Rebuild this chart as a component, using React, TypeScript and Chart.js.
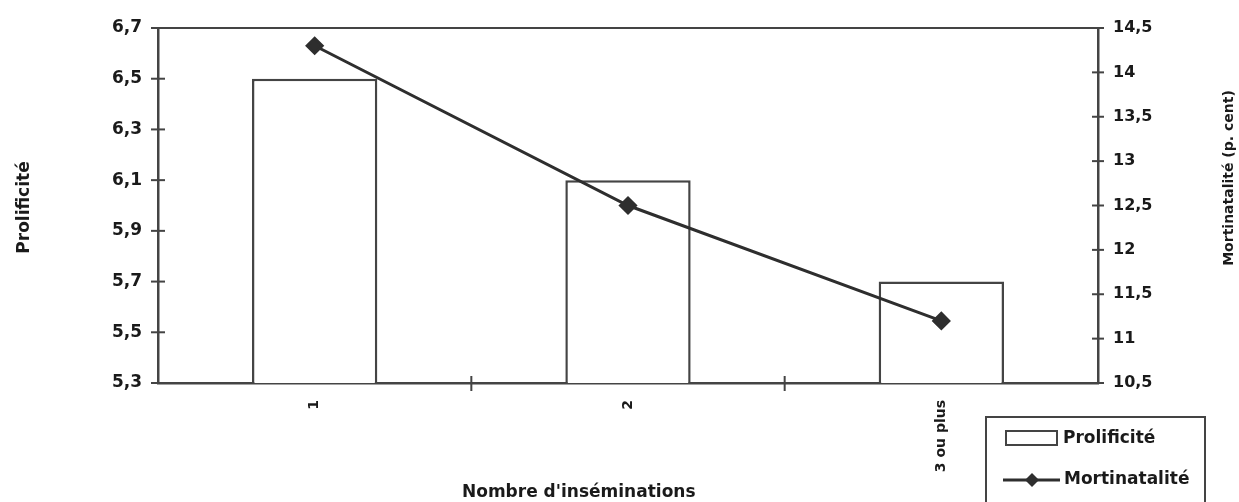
import React, { useEffect, useRef } from 'react';
import { Chart, registerables } from 'chart.js';

Chart.register(...registerables);

const categories = ['1', '2', '3 ou plus'];
const prolificite = [6.5, 6.1, 5.7];
const mortinatalite = [14.3, 12.5, 11.2];
const leftTicks = [5.3, 5.5, 5.7, 5.9, 6.1, 6.3, 6.5, 6.7];
const rightTicks = [10.5, 11, 11.5, 12, 12.5, 13, 13.5, 14, 14.5];
const seriesNames = ['Prolificité', 'Mortinatalité'];
const leftTitle = 'Prolificité';
const rightTitle = 'Mortinatalité (p. cent)';
const xTitle = "Nombre d'inséminations";

const FONT = '"DejaVu Sans", "Liberation Sans", sans-serif';
const AXIS = '#444444';
const TEXT = '#1a1a1a';
const LINE = '#2e2e2e';

const fmt = (v: number) =>
  (Number.isInteger(v) ? String(v) : v.toFixed(1)).replace('.', ',');

const decor = {
  id: 'decor',
  afterDraw(chart: any) {
    const { ctx, chartArea: a, scales } = chart;
    const seg = (x1: number, y1: number, x2: number, y2: number) => {
      ctx.beginPath();
      ctx.moveTo(x1, y1);
      ctx.lineTo(x2, y2);
      ctx.stroke();
    };
    ctx.save();
    ctx.strokeStyle = AXIS;
    ctx.lineWidth = 2;
    // top border
    seg(a.left - 1, a.top, a.right + 1, a.top);
    // left ticks crossing the axis
    scales.y.ticks.forEach((_t: any, i: number) => {
      const py = scales.y.getPixelForTick(i);
      seg(a.left - 7, py, a.left + 7, py);
    });
    // right ticks crossing the axis
    scales.y1.ticks.forEach((_t: any, i: number) => {
      const py = scales.y1.getPixelForTick(i);
      seg(a.right - 6, py, a.right + 6, py);
    });
    // x ticks between categories
    for (let i = 1; i < categories.length; i++) {
      const px = (scales.x.getPixelForValue(i - 1) + scales.x.getPixelForValue(i)) / 2;
      seg(px, a.bottom - 7, px, a.bottom + 8);
    }

    // axis titles
    ctx.fillStyle = TEXT;
    ctx.textAlign = 'center';
    ctx.textBaseline = 'middle';
    ctx.font = `bold 17px ${FONT}`;
    ctx.save();
    ctx.translate(a.left - 133, (a.top + a.bottom) / 2 + 2);
    ctx.rotate(-Math.PI / 2);
    ctx.fillText(leftTitle, 0, 0);
    ctx.restore();

    ctx.font = `bold 14px ${FONT}`;
    ctx.save();
    ctx.translate(a.right + 131, a.top + 150);
    ctx.rotate(-Math.PI / 2);
    ctx.fillText(rightTitle, 0, 0);
    ctx.restore();

    ctx.font = `bold 17px ${FONT}`;
    ctx.textAlign = 'left';
    ctx.fillText(xTitle, a.left + 304, a.bottom + 110);

    // legend box
    const lx = a.right - 112;
    const ly = a.bottom + 34;
    ctx.lineWidth = 2;
    ctx.strokeStyle = AXIS;
    ctx.fillStyle = '#ffffff';
    ctx.fillRect(lx, ly, 219, 110);
    ctx.strokeRect(lx, ly, 219, 110);
    // bar swatch
    ctx.fillRect(lx + 20, ly + 14, 51, 14);
    ctx.strokeRect(lx + 20, ly + 14, 51, 14);
    ctx.fillStyle = TEXT;
    ctx.font = `bold 17px ${FONT}`;
    ctx.textAlign = 'left';
    ctx.fillText(seriesNames[0], lx + 77, ly + 22);
    // line swatch
    ctx.strokeStyle = LINE;
    ctx.lineWidth = 3;
    seg(lx + 17, ly + 63, lx + 74, ly + 63);
    ctx.fillStyle = LINE;
    ctx.beginPath();
    const cx = lx + 46;
    const cy = ly + 63;
    ctx.moveTo(cx, cy - 7);
    ctx.lineTo(cx + 7, cy);
    ctx.lineTo(cx, cy + 7);
    ctx.lineTo(cx - 7, cy);
    ctx.closePath();
    ctx.fill();
    ctx.fillStyle = TEXT;
    ctx.fillText(seriesNames[1], lx + 78, ly + 63);
    ctx.restore();
  },
};

export default function App() {
  const ref = useRef<HTMLCanvasElement | null>(null);

  useEffect(() => {
    document.body.style.margin = '0';
    const canvas = ref.current;
    if (!canvas) return;
    const chart = new Chart(canvas, {
      type: 'bar',
      data: {
        labels: categories,
        datasets: [
          {
            type: 'line',
            label: seriesNames[1],
            data: mortinatalite,
            yAxisID: 'y1',
            borderColor: LINE,
            backgroundColor: LINE,
            borderWidth: 3,
            pointStyle: 'rectRot',
            pointRadius: 7.5,
            pointBackgroundColor: LINE,
            pointBorderColor: LINE,
            tension: 0,
            order: 0,
          } as any,
          {
            type: 'bar',
            label: seriesNames[0],
            data: prolificite,
            yAxisID: 'y',
            backgroundColor: '#ffffff',
            borderColor: '#444444',
            borderWidth: 2.5,
            categoryPercentage: 1,
            barPercentage: 0.4,
            order: 1,
          } as any,
        ],
      },
      options: {
        responsive: false,
        animation: false,
        devicePixelRatio: 1,
        layout: { padding: { top: 28, left: 0, right: 0, bottom: 0 } },
        plugins: {
          legend: { display: false },
          tooltip: { enabled: false },
          title: { display: false },
        },
        scales: {
          x: {
            offset: true,
            grid: { display: false, drawTicks: true, tickLength: 7 },
            border: { display: true, color: AXIS, width: 2.5 },
            ticks: {
              color: TEXT,
              font: { family: FONT, weight: 'bold', size: 14 },
              minRotation: 90,
              maxRotation: 90,
              padding: 10,
            },
            afterFit: (s: any) => {
              s.height = 119;
            },
          },
          y: {
            position: 'left',
            min: 5.3,
            max: 6.7,
            grid: { display: false, drawTicks: true, tickLength: 7 },
            border: { display: true, color: AXIS, width: 2.5 },
            ticks: {
              color: TEXT,
              font: { family: FONT, weight: 'bold', size: 17 },
              padding: 9,
              callback: (v: any) => fmt(Number(v)),
            },
            afterBuildTicks: (s: any) => {
              s.ticks = leftTicks.map((value) => ({ value }));
            },
            afterFit: (s: any) => {
              s.width = 158;
            },
          },
          y1: {
            position: 'right',
            min: 10.5,
            max: 14.5,
            grid: { display: false, drawTicks: true, tickLength: 7 },
            border: { display: true, color: AXIS, width: 2.5 },
            ticks: {
              color: TEXT,
              font: { family: FONT, weight: 'bold', size: 16 },
              padding: 8,
              callback: (v: any) => fmt(Number(v)),
            },
            afterBuildTicks: (s: any) => {
              s.ticks = rightTicks.map((value) => ({ value }));
            },
            afterFit: (s: any) => {
              s.width = 141;
            },
          },
        },
      } as any,
      plugins: [decor],
    });
    return () => chart.destroy();
  }, []);

  return (
    <div style={{ width: 1239, height: 502, background: '#ffffff' }}>
      <canvas ref={ref} width={1239} height={502} style={{ display: 'block' }} />
    </div>
  );
}
